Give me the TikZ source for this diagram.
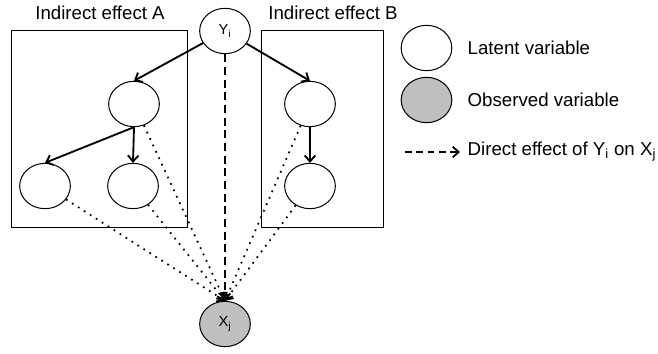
\documentclass[tikz,border=0pt]{standalone}
\usepackage{fontspec}
\setmainfont{Liberation Sans}
\usetikzlibrary{shapes.geometric,arrows.meta}
\begin{document}
\begin{tikzpicture}[x=0.75pt,y=-0.75pt,>={Straight Barb[length=4.5pt,width=8pt]}]
        		\tikzstyle{latent}=[ellipse,line width=0.75pt,draw=black,fill=white,minimum width=38pt,minimum height=34pt,inner sep=0pt,font=\fontsize{11}{13}\selectfont]
				\tikzstyle{observed}=[latent,fill=black!25]
        		\tikzstyle{edge}=[draw=black,line width=1.4pt,->]
        		\tikzstyle{direct}=[edge,dash pattern=on 6pt off 3.5pt]
        		\tikzstyle{indirect}=[edge,line width=1.3pt,dash pattern=on 1.3pt off 4pt]
        		\tikzstyle{caption}=[font=\fontsize{14}{17}\selectfont]

				\useasboundingbox (0,0) rectangle (658,354);

       			\begin{scope}

			         \draw [line width=0.75pt] (11,30) rectangle (187,227);
			         \draw [line width=0.75pt] (261,30) rectangle (383,227);
			         \node [caption] (capA) at (100,13) {Indirect effect A};
			         \node [caption] (capB) at (333,13) {Indirect effect B};

			         \node [latent] (y) at (225,31) {Y\textsubscript{i}};
			         \node [latent] (a0) at (134,104) {};
			         \node [latent] (a1) at (45,186) {};
			         \node [latent] (a2) at (133,186) {};
			         \node [latent] (b0) at (310,104) {};
			         \node [latent] (b1) at (310,186) {};
			         \node [observed] (x) at (225,324) {X\textsubscript{j}};

			 		\draw[edge] (y) -- (a0.north);
			 		\draw[edge] (y) -- (b0.north);
			 		\draw[edge] (a0.south) -- (a1.north);
			 		\draw[edge] (a0.south) -- (a2.north);
			 		\draw[edge] (b0.south) -- (b1.north);

			 		\draw[direct] (y) -- (x.north);
			 		\draw[indirect] (a0) -- (x.north);
			 		\draw[indirect] (a1) -- (x.north);
			 		\draw[indirect] (a2) -- (x.north);
			 		\draw[indirect] (b0) -- (x.north);
			 		\draw[indirect] (b1) -- (x.north);

		        \end{scope}

       			\begin{scope}

			         \node [latent] (lat) at (426.5,48) {};
			         \node [observed] (obs) at (426.5,100) {};
			         \coordinate (d0) at (405,152);
			         \coordinate (d1) at (460,152);
			         \node [caption,anchor=west] (latlabel) at (463,48) {Latent variable};
			         \node [caption,anchor=west] (obslabel) at (463,100) {Observed variable};
			         \node [caption,anchor=west] (dirlabel) at (463,152) {Direct effect of Y\textsubscript{i} on X\textsubscript{j}};

			 		\draw[direct,line width=1.3pt,dash pattern=on 5pt off 3.5pt] (d0) -- (d1);

		        \end{scope}
     		 \end{tikzpicture}
\end{document}
